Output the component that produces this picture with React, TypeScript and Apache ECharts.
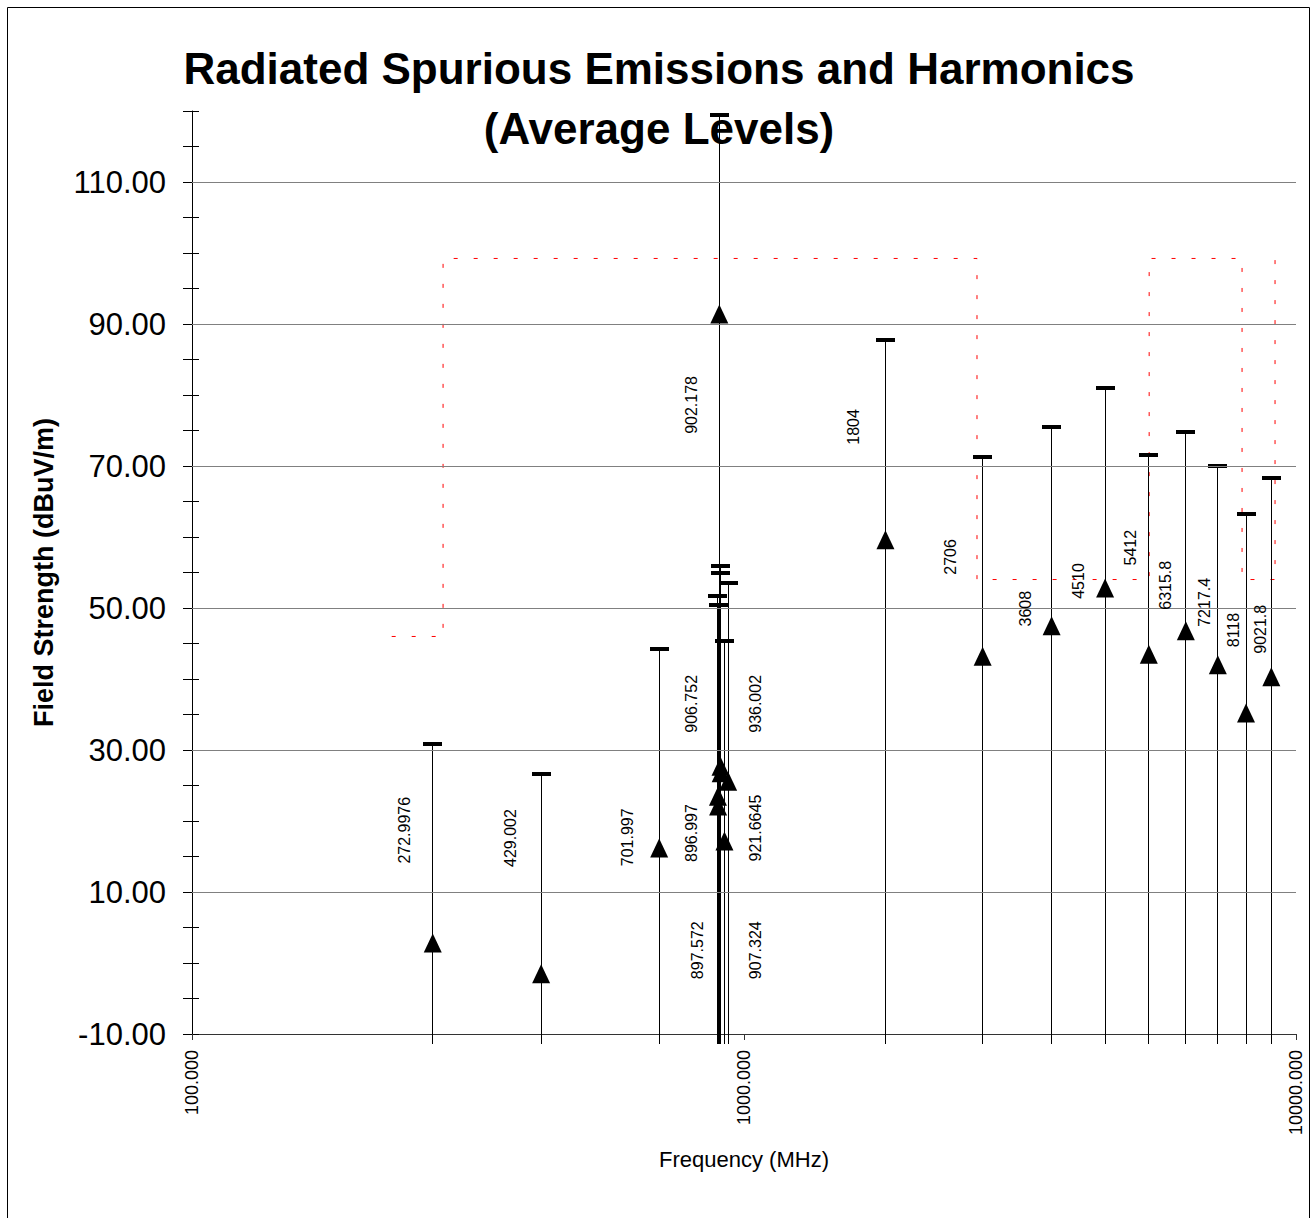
import React, { useEffect, useRef } from 'react';
import * as echarts from 'echarts';

// Emission frequencies (MHz) and their printed labels
const frequencies = [272.9976, 429.002, 701.997, 896.997, 897.572, 902.178, 906.752, 907.324, 921.6645, 936.002, 1804, 2706, 3608, 4510, 5412, 6315.8, 7217.4, 8118, 9021.8];
const frequencyLabels = ['272.9976', '429.002', '701.997', '896.997', '897.572', '902.178', '906.752', '907.324', '921.6645', '936.002', '1804', '2706', '3608', '4510', '5412', '6315.8', '7217.4', '8118', '9021.8'];
// Peak levels (dBuV/m) – horizontal caps
const peakLevels = [30.8, 26.6, 44.2, 51.7, 50.4, 119.4, 55.9, 54.9, 45.4, 53.5, 87.7, 71.3, 75.5, 81.0, 71.6, 74.8, 70.0, 63.2, 68.3];
// Average levels (dBuV/m) – triangles
const averageLevels = [2.8, -1.5, 16.2, 23.5, 22.1, 91.4, 27.7, 26.8, 17.2, 25.6, 59.6, 43.2, 47.5, 52.8, 43.5, 46.8, 42.0, 35.2, 40.3];
// Data-label anchors (frequency MHz, level dBuV/m)
const labelFreqs = [243, 377, 616, 805, 822, 805, 805, 1047, 1047, 1047, 1576, 2362, 3229, 4029, 5005, 5814, 6841, 7690, 8606];
const labelLevels = [18.7, 17.6, 17.7, 18.3, 1.8, 78.6, 36.5, 1.8, 19.0, 36.5, 75.5, 57.2, 49.9, 53.8, 58.5, 53.2, 50.8, 46.9, 47.0];
// Limit line
const limitFreqs = [230, 285, 285, 2643, 2643, 5420, 5420, 7985, 7985, 9163, 9163, 9300];
const limitLevels = [45.99, 45.99, 99.23, 99.23, 54.01, 54.01, 99.23, 99.23, 54.01, 54.01, 99.23, 99.23];
// Y axis labelled values / gridlines
const yLabelValues = [-10, 10, 30, 50, 70, 90, 110];
const gridValues = [10, 30, 50, 70, 90, 110];

const FONT = '"Liberation Sans", Arial, Helvetica, sans-serif';

export default function App() {
  const ref = useRef<HTMLDivElement>(null);
  useEffect(() => {
    if (!ref.current) return;
    const chart = echarts.init(ref.current, undefined, { renderer: 'svg' });
    const option: any = {
      animation: false,
      backgroundColor: '#fff',
      textStyle: { fontFamily: FONT },
      grid: { left: 192, right: 19, top: 111, bottom: 184, containLabel: false },
      graphic: [
        {
          type: 'rect',
          z: 100,
          silent: true,
          shape: { x: 7.5, y: 7.5, width: 1302, height: 1240 },
          style: { fill: 'none', stroke: '#000', lineWidth: 1 },
        },
        {
          type: 'text',
          z: 100,
          x: 659,
          y: 68,
          style: {
            text: 'Radiated Spurious Emissions and Harmonics',
            font: `bold 44px ${FONT}`,
            fill: '#000',
            align: 'center',
            verticalAlign: 'middle',
          },
        },
        {
          type: 'text',
          z: 100,
          x: 659,
          y: 128,
          style: {
            text: '(Average Levels)',
            font: `bold 44px ${FONT}`,
            fill: '#000',
            align: 'center',
            verticalAlign: 'middle',
          },
        },
      ],
      xAxis: {
        type: 'log',
        logBase: 10,
        min: 100,
        max: 10000,
        name: 'Frequency (MHz)',
        nameLocation: 'middle',
        nameGap: 114,
        nameTextStyle: { fontSize: 22, color: '#000', fontFamily: FONT },
        axisLine: { show: true, onZero: false, lineStyle: { color: '#333', width: 1 } },
        axisTick: { show: true, length: 6, lineStyle: { color: '#333' } },
        minorTick: { show: false },
        splitLine: { show: false },
        axisLabel: {
          rotate: 90,
          margin: 16,
          fontSize: 18,
          color: '#000',
          fontFamily: FONT,
          formatter: (v: number) => Number(v).toFixed(3),
        },
      },
      yAxis: [
        {
          type: 'value',
          min: -10,
          max: 120,
          interval: 5,
          name: 'Field Strength (dBuV/m)',
          nameLocation: 'middle',
          nameGap: 135,
          nameTextStyle: { fontSize: 27, fontWeight: 'bold', color: '#000', fontFamily: FONT },
          axisLine: { show: true, onZero: false, lineStyle: { color: '#000', width: 1 } },
          axisTick: { show: true, length: 9, lineStyle: { color: '#000' } },
          splitLine: { show: false },
          axisLabel: {
            margin: 26,
            fontSize: 31,
            color: '#000',
            fontFamily: FONT,
            formatter: (v: number) => (yLabelValues.indexOf(Math.round(v)) >= 0 ? Number(v).toFixed(2) : ''),
          },
        },
        {
          type: 'value',
          min: -10,
          max: 120,
          interval: 5,
          position: 'left',
          axisLine: { show: false, onZero: false },
          axisTick: { show: true, inside: true, length: 7, lineStyle: { color: '#000' } },
          axisLabel: { show: false },
          splitLine: { show: false },
        },
      ],
      series: [
        {
          type: 'line',
          data: [],
          silent: true,
          markLine: {
            silent: true,
            symbol: 'none',
            label: { show: false },
            lineStyle: { color: '#808080', type: 'solid', width: 1 },
            data: gridValues.map((v) => ({ yAxis: v })),
          },
          z: 1,
        },
        {
          type: 'line',
          data: limitFreqs.map((f, i) => [f, limitLevels[i]]),
          showSymbol: false,
          symbol: 'none',
          silent: true,
          lineStyle: { color: '#ff0000', width: 1, type: [4, 16], opacity: 1 },
          z: 3,
        },
        {
          type: 'custom',
          silent: true,
          z: 4,
          data: frequencies.map((f, i) => [f, peakLevels[i]]),
          renderItem: (params: any, api: any) => {
            const top = api.coord([api.value(0), api.value(1)]);
            const base = api.coord([api.value(0), -10]);
            const x = Math.floor(top[0]) + 0.5;
            return {
              type: 'group',
              children: [
                {
                  type: 'line',
                  shape: { x1: x, y1: top[1], x2: x, y2: base[1] + 10 },
                  style: { stroke: '#000', lineWidth: 1 },
                },
                {
                  type: 'rect',
                  shape: { x: x - 9.5, y: Math.round(top[1]) - 2, width: 19, height: 4 },
                  style: { fill: '#000' },
                },
              ],
            };
          },
        },
        {
          type: 'scatter',
          silent: true,
          z: 5,
          symbol: 'triangle',
          symbolSize: [18, 19],
          itemStyle: { color: '#000', opacity: 1 },
          data: frequencies.map((f, i) => [f, averageLevels[i]]),
        },
        {
          type: 'custom',
          silent: true,
          z: 6,
          data: labelFreqs.map((f, i) => [f, labelLevels[i]]),
          renderItem: (params: any, api: any) => {
            const p = api.coord([api.value(0), api.value(1)]);
            return {
              type: 'text',
              x: p[0],
              y: p[1],
              rotation: Math.PI / 2,
              style: {
                text: frequencyLabels[params.dataIndex],
                font: `16px ${FONT}`,
                fill: '#000',
                align: 'center',
                verticalAlign: 'middle',
              },
            };
          },
        },
      ],
    };
    chart.setOption(option);
    return () => chart.dispose();
  }, []);
  return (
    <div
      ref={ref}
      style={{ position: 'absolute', left: 0, top: 0, width: 1315, height: 1218, background: '#fff' }}
    />
  );
}
